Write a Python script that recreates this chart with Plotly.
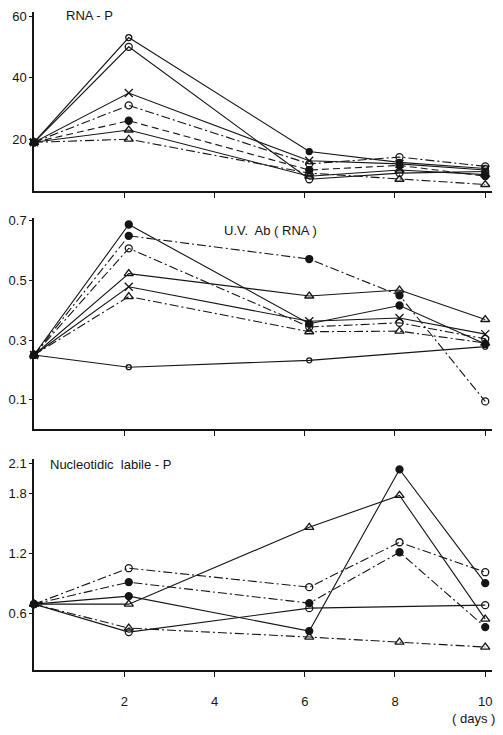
import plotly.graph_objects as go

days = [0, 2.1, 6.1, 8.1, 10]

# Panel 1: RNA - P
rna_a = [19, 53, 16, 12.5, 10.5]
rna_b = [19, 50, 7, 9, 9.5]
rna_c = [19, 35, 13, 12, 10]
rna_d = [19, 31, 12, 14.2, 11.2]
rna_e = [19, 26, 10, 11.5, 8]
rna_f = [19, 23, 8, 10, 8.5]
rna_g = [19, 20, 9, 7, 5.3]

# Panel 2: U.V. Ab (RNA)
uv_a = [0.25, 0.688, 0.355, 0.416, 0.287]
uv_b = [0.25, 0.65, 0.572, 0.45, 0.094]
uv_c = [0.25, 0.608, 0.344, 0.358, 0.304]
uv_d = [0.25, 0.523, 0.448, 0.468, 0.369]
uv_e = [0.25, 0.479, 0.363, 0.374, 0.32]
uv_f = [0.25, 0.446, 0.328, 0.33, 0.29]
uv_g = [0.25, 0.209, 0.232, None, 0.278]

# Panel 3: Nucleotidic labile - P
nl_a = [0.69, 0.77, 0.42, 2.04, 0.90]
nl_b = [0.69, 0.69, 1.46, 1.78, 0.54]
nl_c = [0.69, 1.05, 0.86, 1.31, 1.01]
nl_d = [0.69, 0.91, 0.70, 1.21, 0.46]
nl_e = [0.69, 0.41, 0.65, None, 0.68]
nl_f = [0.69, 0.45, 0.36, 0.31, 0.26]

x_ticks = [2, 4, 6, 8, 10]
y1_ticks = [20, 40, 60]
y2_ticks = [0.1, 0.3, 0.5, 0.7]
y3_ticks = [0.6, 1.2, 1.8, 2.1]

INK = "#151515"
DASHDOT = "9px,3px,2px,3px"
DASH = "7px,4px"

marker_map = {
    "o": dict(symbol="circle-open", size=7),
    "os": dict(symbol="circle-open", size=5),
    "f": dict(symbol="circle", size=7),
    "x": dict(symbol="x-thin-open", size=8),
    "t": dict(symbol="triangle-up-open", size=8),
    "os_f": dict(symbol=["circle-open", "circle-open", "circle", "circle", "circle-open"], size=6),
    "f_o": dict(symbol=["circle", "circle", "circle", "circle", "circle-open"], size=7),
}

fig = go.Figure()

def add(y, mk, dash, ax):
    fig.add_trace(go.Scatter(
        x=days, y=y, mode="lines+markers", connectgaps=True, cliponaxis=False,
        line=dict(color=INK, width=1.1, dash=dash),
        marker=dict(color=INK, line=dict(color=INK, width=1.3), **marker_map[mk]),
        xaxis="x" + ax if ax != "1" else "x",
        yaxis="y" + ax if ax != "1" else "y",
        showlegend=False, hoverinfo="skip",
    ))

add(rna_a, "os_f", "solid", "1")
add(rna_b, "o", "solid", "1")
add(rna_c, "x", "solid", "1")
add(rna_d, "o", DASHDOT, "1")
add(rna_e, "f", DASH, "1")
add(rna_f, "t", "solid", "1")
add(rna_g, "t", DASHDOT, "1")

add(uv_a, "f", "solid", "2")
add(uv_b, "f_o", DASHDOT, "2")
add(uv_c, "o", DASHDOT, "2")
add(uv_d, "t", "solid", "2")
add(uv_e, "x", "solid", "2")
add(uv_f, "t", DASHDOT, "2")
add(uv_g, "os", "solid", "2")

add(nl_a, "f", "solid", "3")
add(nl_b, "t", "solid", "3")
add(nl_c, "o", DASHDOT, "3")
add(nl_d, "f", DASHDOT, "3")
add(nl_e, "o", "solid", "3")
add(nl_f, "t", DASHDOT, "3")

FONT = dict(family="Liberation Sans, Arial, sans-serif", size=13, color=INK)

xcommon = dict(range=[0, 10.15], tickvals=x_ticks, ticks="outside", ticklen=5,
               tickwidth=1.2, tickcolor=INK, showline=True, linecolor=INK,
               linewidth=1.5, showgrid=False, zeroline=False, fixedrange=True)
ycommon = dict(ticks="outside", ticklen=3, tickwidth=1, tickcolor=INK,
               showline=True, linecolor=INK, linewidth=1.5, showgrid=False,
               zeroline=False, tickfont=FONT, fixedrange=True)

fig.update_layout(
    width=503, height=735,
    margin=dict(l=34, r=11, t=8, b=65),
    paper_bgcolor="white", plot_bgcolor="white",
    font=FONT,
    xaxis=dict(domain=[0, 1], anchor="y", showticklabels=False, **xcommon),
    xaxis2=dict(domain=[0, 1], anchor="y2", showticklabels=False, **xcommon),
    xaxis3=dict(domain=[0, 1], anchor="y3", showticklabels=True,
                tickfont=FONT, ticklabelstandoff=14, **xcommon),
    yaxis=dict(domain=[0.728, 1.0], anchor="x", range=[3.2, 61.3],
               tickvals=y1_ticks, **ycommon),
    yaxis2=dict(domain=[0.3656, 0.687], anchor="x2", range=[0.0, 0.71],
                tickvals=y2_ticks, **ycommon),
    yaxis3=dict(domain=[0.0, 0.320], anchor="x3", range=[0.03, 2.14],
                tickvals=y3_ticks, ticktext=["0.6", "1.2", "1.8", "2.1"], **ycommon),
    annotations=[
        dict(text="RNA - P", x=0.065, y=0.994, xref="paper", yref="paper",
             xanchor="left", yanchor="middle", showarrow=False, font=FONT),
        dict(text="U.V.  Ab ( RNA )", x=0.41, y=0.668, xref="paper", yref="paper",
             xanchor="left", yanchor="middle", showarrow=False, font=FONT),
        dict(text="Nucleotidic  labile - P", x=0.03, y=0.3127, xref="paper", yref="paper",
             xanchor="left", yanchor="middle", showarrow=False, font=FONT),
        dict(text="( days )", x=1.012, y=-0.0735, xref="paper", yref="paper",
             xanchor="right", yanchor="middle", showarrow=False, font=FONT),
    ],
)

fig.write_html("out.html", config={"displayModeBar": False},
               post_script="document.body.style.margin='0';document.body.style.overflow='hidden';")
